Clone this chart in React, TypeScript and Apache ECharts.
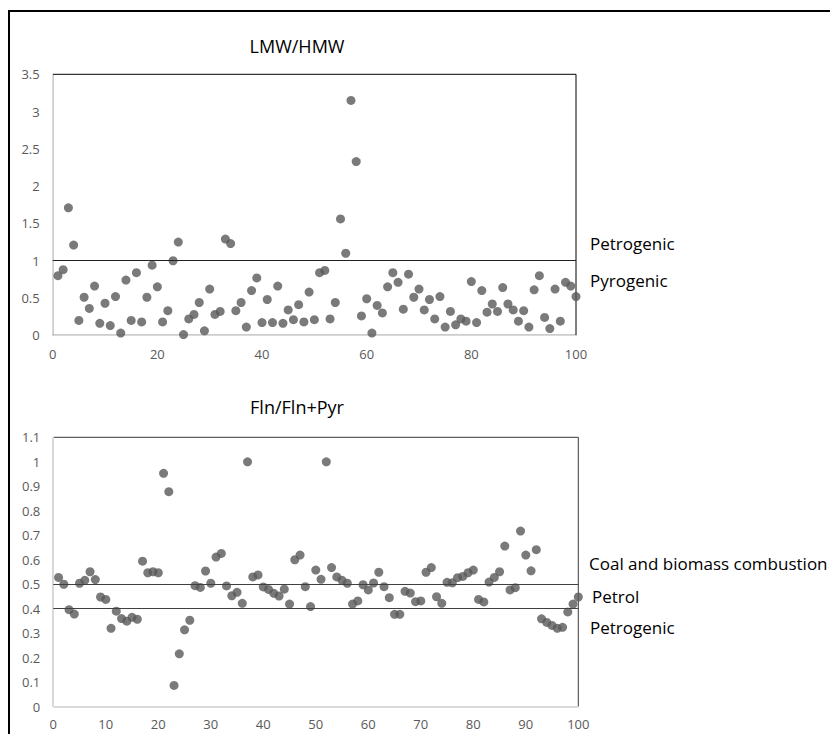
import React, { useEffect, useRef } from "react";
import * as echarts from "echarts";

const topTitle = "LMW/HMW";
const bottomTitle = "Fln/Fln+Pyr";

// LMW/HMW values, samples 1..100
const lmwHmw = [
  0.80, 0.88, 1.71, 1.21, 0.20, 0.51, 0.36, 0.66, 0.16, 0.43,
  0.13, 0.52, 0.03, 0.74, 0.20, 0.84, 0.18, 0.51, 0.94, 0.65,
  0.18, 0.33, 1.00, 1.25, 0.01, 0.22, 0.28, 0.44, 0.06, 0.62,
  0.28, 0.32, 1.29, 1.23, 0.33, 0.44, 0.11, 0.60, 0.77, 0.17,
  0.48, 0.17, 0.66, 0.16, 0.34, 0.21, 0.41, 0.18, 0.58, 0.21,
  0.84, 0.87, 0.22, 0.44, 1.56, 1.10, 3.15, 2.33, 0.26, 0.49,
  0.03, 0.40, 0.30, 0.65, 0.84, 0.71, 0.35, 0.82, 0.51, 0.62,
  0.34, 0.48, 0.22, 0.52, 0.11, 0.32, 0.14, 0.22, 0.19, 0.72,
  0.17, 0.60, 0.31, 0.42, 0.32, 0.64, 0.42, 0.34, 0.19, 0.33,
  0.11, 0.61, 0.80, 0.24, 0.09, 0.62, 0.19, 0.71, 0.66, 0.52,
];

// Fln/(Fln+Pyr) values, samples 1..100
const flnPyr = [
  0.528, 0.500, 0.396, 0.378, 0.504, 0.516, 0.551, 0.519, 0.448, 0.438,
  0.320, 0.390, 0.360, 0.349, 0.365, 0.357, 0.594, 0.547, 0.551, 0.547,
  0.953, 0.878, 0.087, 0.216, 0.314, 0.353, 0.494, 0.487, 0.554, 0.504,
  0.611, 0.626, 0.493, 0.453, 0.467, 0.422, 1.000, 0.530, 0.538, 0.489,
  0.479, 0.463, 0.452, 0.480, 0.419, 0.600, 0.619, 0.490, 0.409, 0.558,
  0.520, 1.000, 0.568, 0.530, 0.516, 0.504, 0.419, 0.432, 0.498, 0.477,
  0.505, 0.549, 0.490, 0.445, 0.377, 0.377, 0.471, 0.464, 0.429, 0.432,
  0.549, 0.568, 0.449, 0.422, 0.508, 0.506, 0.527, 0.532, 0.547, 0.558,
  0.438, 0.428, 0.509, 0.528, 0.551, 0.656, 0.477, 0.486, 0.717, 0.619,
  0.555, 0.641, 0.359, 0.344, 0.332, 0.320, 0.324, 0.387, 0.419, 0.448,
];

const topThresholds = [1];
const topZoneLabels = ["Petrogenic", "Pyrogenic"];
const bottomThresholds = [0.5, 0.4];
const bottomZoneLabels = ["Coal and biomass combustion", "Petrol", "Petrogenic"];

const FONT = "'Open Sans', sans-serif";
const GRAY = "#595959";

export default function App() {
  const ref = useRef<HTMLDivElement>(null);
  useEffect(() => {
    if (!ref.current) return;
    const chart = echarts.init(ref.current, undefined, { renderer: "svg" });
    const toPairs = (arr: number[]) => arr.map((v, i) => [i + 1, v]);
    const axisLabel = { color: GRAY, fontSize: 13, fontFamily: FONT };
    const xAxisCommon = {
      type: "value" as const,
      min: 0,
      max: 100,
      axisLine: { show: true, lineStyle: { color: "#d9d9d9", width: 1 } },
      axisTick: { show: false },
      splitLine: { show: false },
    };
    const yAxisCommon = {
      type: "value" as const,
      min: 0,
      axisLine: { show: true, lineStyle: { color: "#d9d9d9", width: 1 } },
      axisTick: { show: false },
      splitLine: { show: false },
    };
    const labelText = (text: string, x: number, y: number, size = 17) => ({
      type: "text",
      x,
      y,
      style: {
        text,
        fill: "#000",
        font: `${size}px 'Open Sans', sans-serif`,
        textVerticalAlign: "middle",
        verticalAlign: "middle",
      },
    });
    const option: any = {
      animation: false,
      backgroundColor: "#fff",
      grid: [
        { left: 52.7, top: 74.3, width: 523.3, height: 261, show: true, borderColor: "#000", borderWidth: 1, backgroundColor: "transparent" },
        { left: 53.3, top: 437.3, width: 525, height: 269.4, show: true, borderColor: "#3a3a3a", borderWidth: 1, backgroundColor: "transparent" },
      ],
      xAxis: [
        { ...xAxisCommon, gridIndex: 0, interval: 20, axisLabel: { ...axisLabel, margin: 12 } },
        { ...xAxisCommon, gridIndex: 1, interval: 10, axisLabel: { ...axisLabel, margin: 11 } },
      ],
      yAxis: [
        { ...yAxisCommon, gridIndex: 0, max: 3.5, interval: 0.5, axisLabel: { ...axisLabel, margin: 13 } },
        { ...yAxisCommon, gridIndex: 1, max: 1.1, interval: 0.1, axisLabel: { ...axisLabel, margin: 13 } },
      ],
      series: [
        {
          type: "scatter",
          xAxisIndex: 0,
          yAxisIndex: 0,
          data: toPairs(lmwHmw),
          symbolSize: 9,
          itemStyle: { color: GRAY },
          markLine: {
            silent: true,
            symbol: "none",
            label: { show: false },
            lineStyle: { color: "#222", width: 1, type: "solid" },
            data: topThresholds.map((v) => ({ yAxis: v })),
          },
        },
        {
          type: "scatter",
          xAxisIndex: 1,
          yAxisIndex: 1,
          data: toPairs(flnPyr),
          symbolSize: 9,
          itemStyle: { color: GRAY },
          markLine: {
            silent: true,
            symbol: "none",
            label: { show: false },
            lineStyle: { color: "#404040", width: 1, type: "solid" },
            data: bottomThresholds.map((v) => ({ yAxis: v })),
          },
        },
      ],
      graphic: [
        {
          type: "rect",
          shape: { x: 9, y: 11, width: 900, height: 800 },
          style: { fill: "none", stroke: "#000", lineWidth: 2 },
          silent: true,
        },
        {
          type: "text",
          x: 297,
          y: 46,
          style: { text: topTitle, fill: "#000", font: `18px ${FONT}`, textAlign: "center", textVerticalAlign: "middle", verticalAlign: "middle" },
        },
        {
          type: "text",
          x: 297,
          y: 407,
          style: { text: bottomTitle, fill: "#000", font: `18px ${FONT}`, textAlign: "center", textVerticalAlign: "middle", verticalAlign: "middle" },
        },
        labelText(topZoneLabels[0], 590, 243),
        labelText(topZoneLabels[1], 590, 280),
        labelText(bottomZoneLabels[0], 589, 563),
        labelText(bottomZoneLabels[1], 592, 596),
        labelText(bottomZoneLabels[2], 590, 627),
      ],
    };
    chart.setOption(option);
    return () => chart.dispose();
  }, []);
  return (
    <div
      ref={ref}
      style={{ position: "absolute", left: 0, top: 0, width: 830, height: 734 }}
    />
  );
}
